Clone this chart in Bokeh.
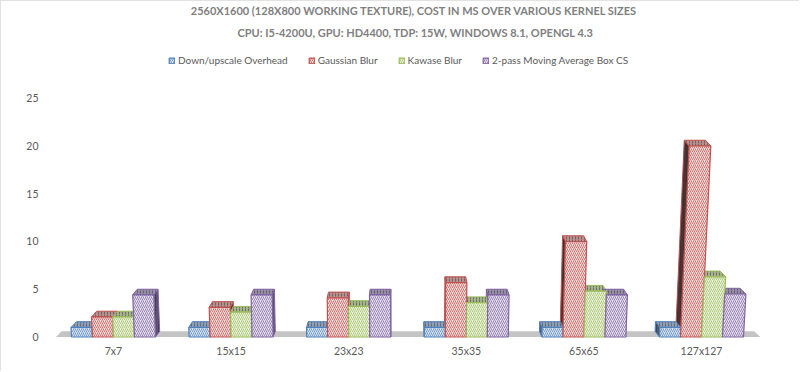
from bokeh.plotting import figure
from bokeh.models import FixedTicker, Title, Legend, LegendItem
from bokeh.embed import file_html
from bokeh.resources import INLINE

# ---------------- data ----------------
categories = ["7x7", "15x15", "23x23", "35x35", "65x65", "127x127"]
series_names = ["Down/upscale Overhead", "Gaussian Blur", "Kawase Blur",
                "2-pass Moving Average Box CS"]
overhead = [1.0, 1.0, 1.0, 1.0, 1.0, 1.0]
gaussian = [2.1, 3.1, 4.1, 5.7, 10.0, 20.0]
kawase = [2.1, 2.6, 3.2, 3.6, 4.8, 6.3]
box_cs = [4.4, 4.4, 4.4, 4.4, 4.4, 4.5]
y_ticks = [0, 5, 10, 15, 20, 25]
title_line1 = "2560X1600  (128X800 WORKING TEXTURE), COST IN MS OVER VARIOUS KERNEL SIZES"
title_line2 = "CPU: I5-4200U, GPU: HD4400, TDP: 15W, WINDOWS 8.1, OPENGL 4.3"

series = [overhead, gaussian, kawase, box_cs]

# ---------------- styles ----------------
edge = ["#4F81BD", "#C0504D", "#9BBB59", "#8064A2"]
front_fill = ["#dbe5f1", "#f4dedd", "#edf3e0", "#e6e0ee"]
top_fill = ["#8d9fb8", "#b98f8e", "#a4b38a", "#978ca8"]
side_fill = ["#4b5d78", "#4a3433", "#65744c", "#5c5272"]
TXT = "#595959"
FONT = "Lato"

BAR_W = 0.1786
XC = 2.44      # horizontal vanishing position (data units)
LEAN = 0.00155
KD = 0.017
DY = 0.6


def lean(x, v):
    return x + (x - XC) * v * LEAN


def ddx(x):
    return -(x - XC) * KD


p = figure(width=799, height=371, output_backend="svg", toolbar_location=None,
           x_range=(-0.5357, 5.6718), y_range=(-0.576, 30.52),
           min_border_left=50, min_border_right=19, min_border_bottom=29,
           min_border_top=45, title=None)
p.outline_line_color = None
p.grid.visible = False
p.styles = {"outline": "1px solid #d9d9d9", "outline-offset": "-1px"}

# floor
fx0, fx1 = -0.49, 5.5
p.patch([fx0, fx1, fx1 + ddx(fx1), fx0 + ddx(fx0)], [0, 0, DY, DY],
        fill_color="#c4c4c4", line_color=None)

fronts, tops, sides = [], [], []
for s, vals in enumerate(series):
    fx, fy, tx, ty, sx, sy = [], [], [], [], [], []
    for g, v in enumerate(vals):
        xl = g - 2 * BAR_W + s * BAR_W
        xr = xl + BAR_W
        xlt, xrt = lean(xl, v), lean(xr, v)
        fx.append([xl, xr, xrt, xlt]); fy.append([0, 0, v, v])
        tx.append([xlt, xrt, xrt + ddx(xrt), xlt + ddx(xlt)]); ty.append([v, v, v + DY, v + DY])
        if g < XC:
            sx.append([xr, xrt, xrt + ddx(xrt), xr + ddx(xr)])
        else:
            sx.append([xl, xlt, xlt + ddx(xlt), xl + ddx(xl)])
        sy.append([0, v, v + DY, DY])
    fronts.append((fx, fy)); tops.append((tx, ty)); sides.append((sx, sy))

for s in range(4):
    p.patches(sides[s][0], sides[s][1], fill_color=side_fill[s], line_color=edge[s],
              line_width=1, hatch_pattern=":", hatch_color="#2a2a2a", hatch_alpha=0.5,
              hatch_scale=3)
for s in range(4):
    p.patches(tops[s][0], tops[s][1], fill_color=top_fill[s], line_color=edge[s],
              line_width=1, hatch_pattern=":", hatch_color="#444444", hatch_alpha=0.6,
              hatch_scale=3)
front_r = []
for s in range(4):
    r = p.patches(fronts[s][0], fronts[s][1], fill_color=front_fill[s], line_color=edge[s],
                  line_width=1.2, hatch_pattern="/", hatch_color=edge[s], hatch_alpha=0.75,
                  hatch_scale=4, hatch_weight=1)
    front_r.append(r)

# axes
p.yaxis.ticker = FixedTicker(ticks=y_ticks)
p.xaxis.ticker = FixedTicker(ticks=list(range(len(categories))))
p.xaxis.major_label_overrides = {i: c for i, c in enumerate(categories)}
for ax in (p.xaxis, p.yaxis):
    ax.axis_line_color = None
    ax.major_tick_line_color = None
    ax.minor_tick_line_color = None
    ax.major_tick_out = 0
    ax.major_tick_in = 0
    ax.minor_tick_out = 0
    ax.major_label_text_color = TXT
    ax.major_label_text_font = FONT
    ax.major_label_text_font_size = "10.5px"
p.xaxis.major_label_standoff = 2
p.yaxis.major_label_standoff = 12

legend = Legend(items=[LegendItem(label=n, renderers=[r]) for n, r in zip(series_names, front_r)],
                orientation="horizontal", location=(118, 276))
legend.glyph_width = 7
legend.glyph_height = 7
legend.label_height = 12
legend.label_standoff = 3
legend.spacing = 20
legend.padding = 2
legend.margin = 0
legend.border_line_color = None
legend.background_fill_alpha = 0
legend.label_text_font = FONT
legend.label_text_font_size = "10px"
legend.label_text_color = TXT
p.add_layout(legend)

t2 = Title(text=title_line2, align="center", text_font=FONT, text_font_size="11px",
           text_font_style="bold", text_color="#808080", standoff=14, offset=0,
           text_line_height=0.6)
t1 = Title(text=title_line1, align="center", text_font=FONT, text_font_size="11px",
           text_font_style="bold", text_color="#808080", standoff=0, offset=0)
p.add_layout(t2, "above")
p.add_layout(t1, "above")

open("out.html", "w").write(file_html(p, INLINE))
